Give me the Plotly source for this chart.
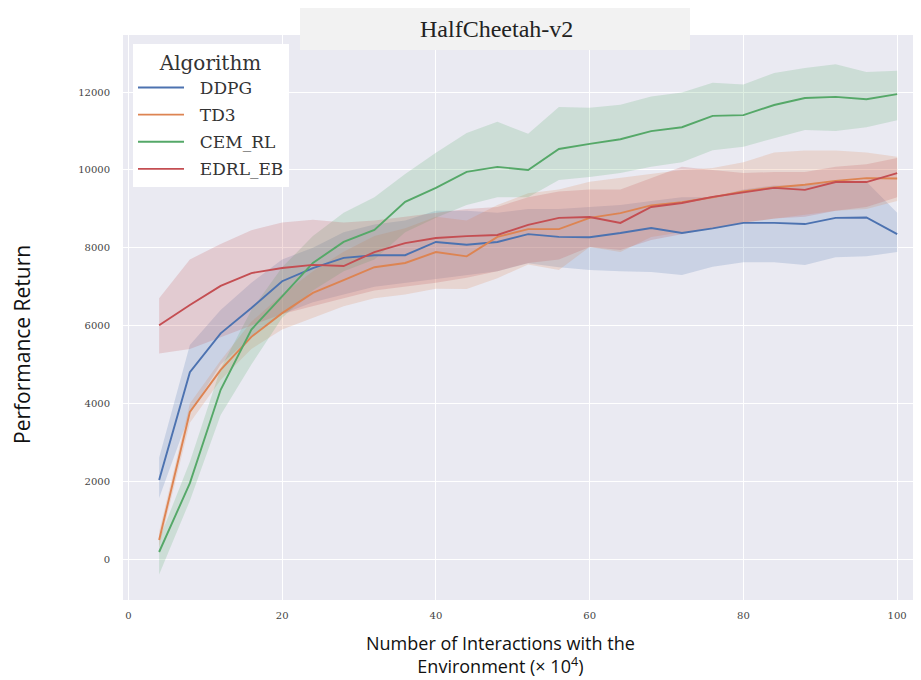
import plotly.graph_objects as go

steps = list(range(4, 101, 4))

ddpg = [2030, 4800, 5800, 6450, 7140, 7480, 7740, 7810, 7810, 8150, 8080, 8150, 8350,
        8280, 8270, 8380, 8510, 8380, 8500, 8640, 8640, 8610, 8770, 8780, 8350]
ddpg_lo = [1570, 3750, 5000, 5700, 6300, 6600, 6800, 7000, 7100, 7200, 7300, 7400, 7600,
           7500, 7430, 7400, 7380, 7300, 7510, 7630, 7630, 7560, 7760, 7780, 7890]
ddpg_hi = [2600, 5500, 6400, 7100, 7700, 8000, 8400, 8600, 8700, 8950, 8950, 8900, 9000,
           9000, 9050, 9100, 9200, 9300, 9300, 9500, 9600, 9600, 9700, 9700, 8900]

td3 = [490, 3780, 4860, 5710, 6320, 6840, 7170, 7500, 7610, 7890, 7780, 8280, 8480,
       8480, 8770, 8890, 9090, 9170, 9300, 9450, 9550, 9620, 9720, 9790, 9780]
td3_lo = [300, 3500, 4600, 5400, 5900, 6200, 6500, 6700, 6800, 6950, 6940, 7220, 7570,
          7430, 8020, 7890, 8280, 8400, 8500, 8650, 8750, 8850, 8950, 9000, 9200]
td3_hi = [700, 4000, 5100, 6100, 6800, 7400, 7900, 8300, 8500, 8800, 8700, 9100, 9400,
          9500, 9700, 9800, 9900, 10000, 10050, 10200, 10450, 10500, 10500, 10450, 10340]

cem_rl = [180, 1950, 4350, 5900, 6750, 7610, 8150, 8460, 9180, 9540, 9950, 10080, 10000,
          10540, 10670, 10790, 11000, 11100, 11390, 11410, 11670, 11850, 11880, 11820, 11950]
cem_rl_lo = [-400, 1500, 3700, 5000, 6200, 6900, 7400, 7700, 8400, 8770, 9100, 9300, 9300,
             9740, 9820, 9920, 10080, 10200, 10510, 10600, 10820, 11030, 11000, 11100, 11280]
cem_rl_hi = [500, 2500, 4900, 6400, 7500, 8300, 8900, 9300, 9900, 10440, 10950, 11240, 10930,
             11620, 11600, 11680, 11890, 11990, 12240, 12200, 12490, 12620, 12720, 12520, 12550]

edrl_eb = [6010, 6530, 7020, 7350, 7480, 7560, 7530, 7890, 8120, 8250, 8300, 8330, 8590,
           8770, 8790, 8640, 9050, 9150, 9310, 9430, 9540, 9490, 9690, 9690, 9920]
edrl_eb_lo = [5280, 5400, 5700, 6000, 6300, 6500, 6700, 6900, 7000, 7100, 7230, 7400, 7610,
              7700, 8020, 7940, 8200, 8350, 8500, 8650, 8750, 8800, 8950, 9050, 9300]
edrl_eb_hi = [6700, 7700, 8100, 8450, 8650, 8720, 8650, 8700, 8800, 8900, 9000, 9050, 9300,
              9450, 9500, 9500, 9800, 10080, 10000, 9920, 9950, 9950, 10080, 10150, 10310]

series = [
    ("DDPG", ddpg, ddpg_lo, ddpg_hi, "76,114,176"),
    ("TD3", td3, td3_lo, td3_hi, "221,132,82"),
    ("CEM_RL", cem_rl, cem_rl_lo, cem_rl_hi, "85,168,104"),
    ("EDRL_EB", edrl_eb, edrl_eb_lo, edrl_eb_hi, "196,78,82"),
]

serif = "DejaVu Serif"
sans = "Open Sans"

# the page body adds an 8px offset; plot area on screen: 123..921 x 35..600
L, W, B, H = 123, 798, 600, 565

def px(x):
    return (x - L) / W

def py(y):
    return (B - y) / H

fig = go.Figure()
for name, mean, lo, hi, rgb in series:
    fig.add_trace(go.Scatter(
        x=steps + steps[::-1], y=hi + lo[::-1],
        fill="toself", fillcolor=f"rgba({rgb},0.2)",
        line=dict(width=0), hoverinfo="skip", showlegend=False,
    ))
for name, mean, lo, hi, rgb in series:
    # two no-break spaces widen the gap between legend line and label
    fig.add_trace(go.Scatter(
        x=steps, y=mean, mode="lines", name="\u00a0\u00a0" + name, legendgroup=name,
        line=dict(color=f"rgb({rgb})", width=1.9),
    ))

fig.update_layout(
    width=921, height=680,
    margin=dict(l=L - 8, r=8, t=35 - 8, b=680 - (B - 8), autoexpand=False),
    paper_bgcolor="white", plot_bgcolor="#EAEAF2",
    font=dict(family=serif, size=10, color="#444"),
    legend=dict(
        x=px(133), y=py(44), xanchor="left", yanchor="top",
        bgcolor="white", font=dict(family=serif, size=17, color="#333"),
        tracegroupgap=2, itemwidth=46,
        title=dict(text="Algorithm", font=dict(family=serif, size=20, color="#333"),
                   side="top center"),
    ),
)
fig.update_xaxes(range=[-0.7, 103.1], tickvals=[0, 20, 40, 60, 80, 100],
                 gridcolor="white", gridwidth=1.2, zeroline=False, showline=False,
                 ticks="", ticklabelstandoff=8)
fig.update_yaxes(range=[-1054, 13470], tickvals=list(range(0, 12001, 2000)),
                 tickformat="d",
                 gridcolor="white", gridwidth=1.2, zeroline=False, showline=False,
                 ticks="", ticklabelstandoff=12)

# title box
fig.add_shape(type="rect", xref="paper", yref="paper",
              x0=px(300), x1=px(690), y0=py(50), y1=py(3),
              fillcolor="#F2F2F2", line=dict(width=0), layer="above")
fig.add_annotation(text="HalfCheetah-v2", xref="paper", yref="paper",
                   x=px(496), y=py(29), xanchor="center", yanchor="middle",
                   showarrow=False,
                   font=dict(family="Liberation Serif", size=24, color="#222"))

fig.add_annotation(text="Performance Return", xref="paper", yref="paper",
                   x=px(22), y=py(345), xanchor="center", yanchor="middle",
                   textangle=-90, showarrow=False,
                   font=dict(family=sans, size=21, color="#111"))
fig.add_annotation(text="Number of Interactions with the<br>Environment (× 10<sup>4</sup>)",
                   xref="paper", yref="paper", x=px(500), y=py(654),
                   xanchor="center", yanchor="middle",
                   showarrow=False, align="center",
                   font=dict(family=sans, size=18, color="#111"))

fig.write_html("out.html")
